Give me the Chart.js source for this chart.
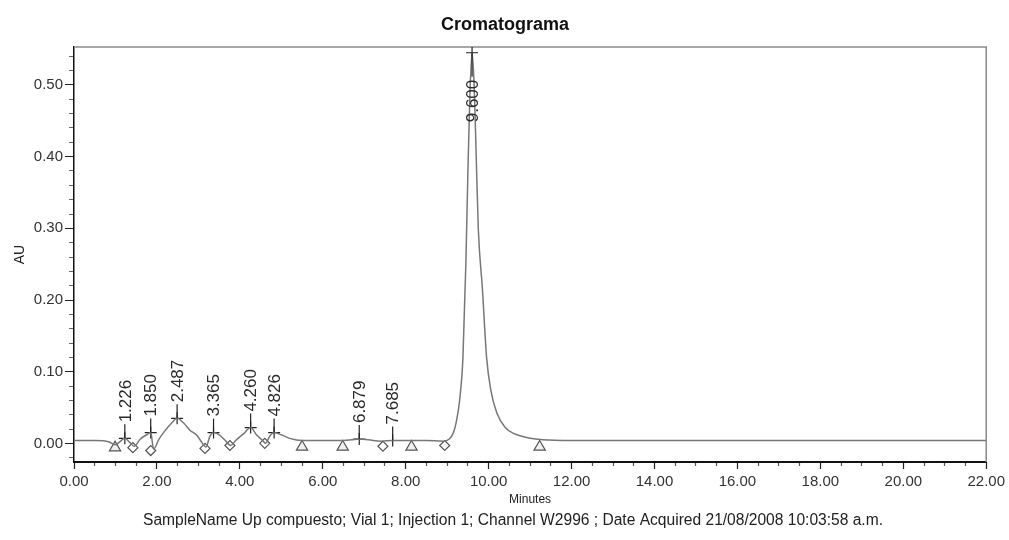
<!DOCTYPE html>
<html>
<head>
<meta charset="utf-8">
<script src="https://cdn.jsdelivr.net/npm/chart.js@4/dist/chart.umd.min.js"></script>
<style>
  body { margin: 0; background: #fff; }
  #wrap { width: 1009px; height: 540px; }
</style>
</head>
<body>
<div id="wrap"><canvas id="chrom" width="1009" height="540"></canvas></div>
<script>
// chromatogram trace (minutes / AU)
const traceTime = [0, 0.5, 0.85, 1.0, 1.1, 1.226, 1.35, 1.45, 1.6, 1.75, 1.85, 1.92, 2.05, 2.2, 2.35, 2.487,
  2.65, 2.8, 2.95, 3.1, 3.18, 3.28, 3.365, 3.5, 3.65, 3.78, 3.9, 4.1, 4.26, 4.4, 4.55, 4.62, 4.72, 4.826,
  5.0, 5.2, 5.5, 6.0, 6.5, 6.7, 6.879, 7.1, 7.4, 7.685, 8.0, 8.5, 8.9, 9.05, 9.15, 9.22, 9.3, 9.38, 9.45,
  9.5, 9.55, 9.6, 9.65, 9.7, 9.75, 9.85, 9.95, 10.05, 10.2, 10.4, 10.6, 10.8, 11.0, 11.3, 12, 14, 16, 18, 20, 22];
const traceAU = [0.004, 0.004, 0.002, -0.002, 0.002, 0.007, 0.001, -0.004, 0.006, 0.012, 0.015, -0.008, 0.006, 0.018, 0.028, 0.035,
  0.028, 0.018, 0.012, 0.0, -0.005, 0.010, 0.015, 0.012, 0.004, -0.003, 0.004, 0.014, 0.022, 0.012, 0.004, 0.0, 0.010, 0.015,
  0.012, 0.007, 0.004, 0.004, 0.004, 0.005, 0.006, 0.005, 0.003, 0.004, 0.004, 0.004, 0.003, 0.006, 0.015, 0.030, 0.060, 0.120, 0.250,
  0.380, 0.490, 0.545, 0.500, 0.400, 0.300, 0.215, 0.120, 0.075, 0.042, 0.022, 0.014, 0.010, 0.007, 0.005, 0.004, 0.004, 0.004, 0.004, 0.004, 0.004];

// integrated peaks (retention time, apex height)
const peakTimes = [1.226, 1.850, 2.487, 3.365, 4.260, 4.826, 6.879, 7.685, 9.600];
const peakAU = [0.007, 0.015, 0.035, 0.015, 0.022, 0.015, 0.006, 0.004, 0.545];

// baseline start/end marks
const triangleTimes = [0.99, 5.5, 6.48, 8.14, 11.23];
const triangleAU = [-0.006, -0.005, -0.005, -0.005, -0.005];
const diamondTimes = [1.42, 1.85, 3.16, 3.76, 4.6, 7.45, 8.94];
const diamondAU = [-0.006, -0.010, -0.007, -0.003, 0.0, -0.004, -0.003];

// axes
const xMin = 0, xMax = 22, xMajor = 2, xMinor = 0.5;
const yMin = -0.026, yMax = 0.553, yMajor = 0.1, yMinor = 0.02;

const titleText = 'Cromatograma';
const captionText = 'SampleName Up compuesto; Vial 1; Injection 1; Channel W2996 ; Date Acquired 21/08/2008 10:03:58 a.m.';

const FONT = '"Liberation Sans", Arial, sans-serif';

function pts(xs, ys) { return xs.map((x, i) => ({ x: x, y: ys[i] })); }
function isMultiple(v, step) { const r = v / step; return Math.abs(r - Math.round(r)) < 1e-6; }

const peakLabelPlugin = {
  id: 'peakLabels',
  afterDatasetsDraw(chart) {
    const { ctx, scales: { x, y }, chartArea } = chart;
    ctx.save();
    ctx.font = '17px ' + FONT;
    ctx.fillStyle = '#2a2a2a';
    ctx.strokeStyle = '#222';
    ctx.lineWidth = 1.2;
    peakTimes.forEach((t, i) => {
      const px = x.getPixelForValue(t);
      const py = y.getPixelForValue(peakAU[i]);
      const txt = t.toFixed(3);
      const w = ctx.measureText(txt).width;
      const above = py - 16 - w > chartArea.top;
      ctx.beginPath();
      ctx.moveTo(px, py);
      ctx.lineTo(px, above ? py - 14 : py + 24);
      ctx.stroke();
      ctx.save();
      ctx.translate(px, above ? py - 16 : py + 27);
      ctx.rotate(-Math.PI / 2);
      ctx.textBaseline = 'middle';
      ctx.textAlign = above ? 'left' : 'right';
      ctx.fillText(txt, 0, 1);
      ctx.restore();
    });
    ctx.restore();
  }
};

const framePlugin = {
  id: 'frame',
  beforeDatasetsDraw(chart) {
    const { ctx, chartArea: a } = chart;
    ctx.save();
    ctx.strokeStyle = '#8a8a8a';
    ctx.lineWidth = 1.5;
    ctx.beginPath();
    ctx.moveTo(a.left, a.top);
    ctx.lineTo(a.right, a.top);
    ctx.lineTo(a.right, a.bottom);
    ctx.stroke();
    ctx.restore();
  },
  afterDraw(chart) {
    const { ctx } = chart;
    ctx.save();
    ctx.fillStyle = '#111';
    ctx.textAlign = 'center';
    ctx.textBaseline = 'middle';
    ctx.font = 'bold 18px ' + FONT;
    ctx.fillText(titleText, 505, 25);
    ctx.font = '16px ' + FONT;
    ctx.fillStyle = '#222';
    ctx.fillText(captionText, 513, 521, 740);
    ctx.restore();
  }
};

new Chart(document.getElementById('chrom'), {
  type: 'scatter',
  data: {
    datasets: [
      {
        label: 'trace',
        data: pts(traceTime, traceAU),
        showLine: true,
        pointRadius: 0,
        borderColor: '#777',
        borderWidth: 1.5,
        cubicInterpolationMode: 'monotone'
      },
      {
        label: 'apex',
        data: pts(peakTimes, peakAU),
        pointStyle: 'cross',
        pointRadius: 6,
        borderColor: '#222',
        borderWidth: 1.2
      },
      {
        label: 'triangles',
        data: pts(triangleTimes, triangleAU),
        pointStyle: 'triangle',
        pointRadius: 6.5,
        backgroundColor: '#f0f0f0',
        borderColor: '#555',
        borderWidth: 1.2
      },
      {
        label: 'diamonds',
        data: pts(diamondTimes, diamondAU),
        pointStyle: 'rectRot',
        pointRadius: 5,
        backgroundColor: '#fff',
        borderColor: '#555',
        borderWidth: 1.2
      }
    ]
  },
  options: {
    responsive: false,
    animation: false,
    layout: { padding: { top: 47, bottom: 31, left: 0, right: 22 } },
    plugins: { legend: { display: false }, tooltip: { enabled: false } },
    scales: {
      x: {
        type: 'linear', min: xMin, max: xMax,
        afterFit: s => { s.height = 47; },
        border: { color: '#111', width: 2 },
        grid: {
          drawOnChartArea: false, tickLength: 7, tickWidth: 1.2,
          tickColor: c => isMultiple(c.tick.value, xMajor) ? '#222' : '#555',
          tickBorderDash: c => isMultiple(c.tick.value, xMajor) ? [] : [3, 20]
        },
        ticks: {
          stepSize: xMinor, autoSkip: false, maxRotation: 0, padding: 4,
          color: '#333', font: { family: FONT, size: 15 },
          callback: v => isMultiple(v, xMajor) ? v.toFixed(2) : ''
        },
        title: { display: true, text: 'Minutes', color: '#222', font: { family: FONT, size: 12 }, padding: { top: 0, bottom: 2 } }
      },
      y: {
        type: 'linear', min: yMin, max: yMax,
        afterFit: s => { s.width = 74; },
        border: { color: '#111', width: 1.5 },
        grid: {
          drawOnChartArea: false, tickLength: 9, tickWidth: 1,
          tickColor: c => isMultiple(c.tick.value, yMajor) ? '#222' : '#666',
          tickBorderDash: c => isMultiple(c.tick.value, yMajor) ? [] : [4, 4],
          tickBorderDashOffset: c => isMultiple(c.tick.value, yMajor) ? 0 : 4
        },
        ticks: {
          stepSize: yMinor, includeBounds: false, autoSkip: false, padding: 2,
          color: '#333', font: { family: FONT, size: 15 },
          callback: v => isMultiple(v, yMajor) ? v.toFixed(2) : ''
        },
        title: { display: true, text: 'AU', color: '#222', font: { family: FONT, size: 14 }, padding: { top: 12, bottom: 0 } }
      }
    }
  },
  plugins: [framePlugin, peakLabelPlugin]
});
</script>
</body>
</html>
